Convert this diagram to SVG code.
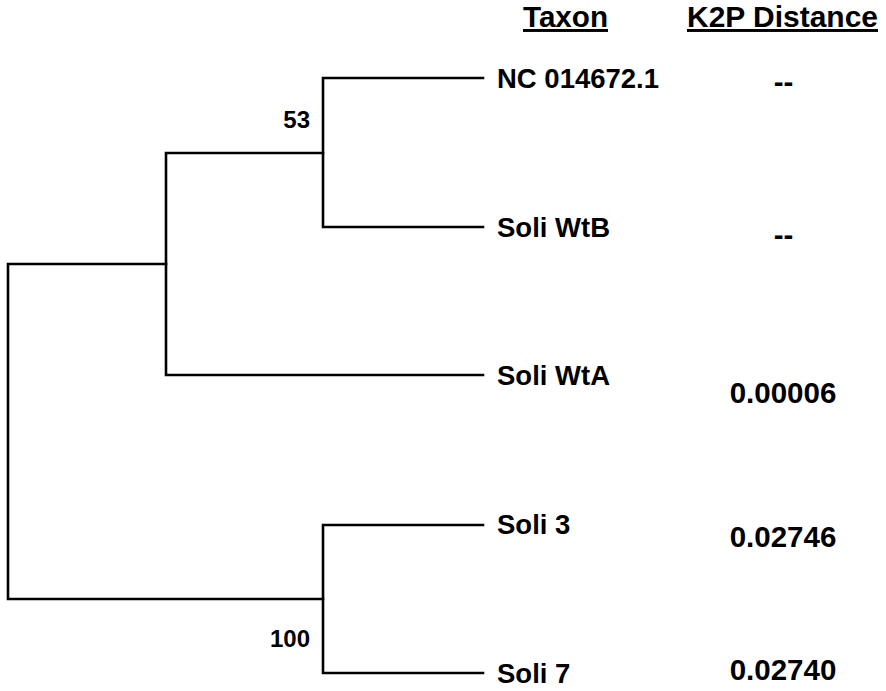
<svg xmlns="http://www.w3.org/2000/svg" width="886" height="691" viewBox="0 0 886 691">
<style>
.br{fill:none;stroke:#000;stroke-width:2.6;stroke-linecap:square;stroke-linejoin:miter}
.t{font-family:"Liberation Sans",Arial,sans-serif;font-weight:bold;fill:#000}
.lab{font-size:27.5px}
.hd{font-size:29.5px;text-decoration:underline}
.d{font-size:29.5px;text-anchor:middle}
.bs{font-size:24px;text-anchor:end}
</style>
<rect width="886" height="691" fill="#fff"/>
<g id="connectors">
<path class="br" d="M483,78 H323 V227 H483"/>
<path class="br" d="M323,153 H166 V375 H483"/>
<path class="br" d="M166,264 H8 V599 H323"/>
<path class="br" d="M483,525 H323 V673 H483"/>
</g>
<g id="header">
<text class="t hd" x="523" y="27" textLength="85" lengthAdjust="spacingAndGlyphs">Taxon</text>
<text class="t hd" x="687" y="27" textLength="191" lengthAdjust="spacingAndGlyphs">K2P Distance</text>
</g>
<g id="node-nc"><text class="t lab" x="497" y="88">NC 014672.1</text><text class="t d" x="783.5" y="92">--</text></g>
<g id="node-wtb"><text class="t lab" x="497" y="237">Soli WtB</text><text class="t d" x="783.5" y="245">--</text></g>
<g id="node-wta"><text class="t lab" x="497" y="385">Soli WtA</text><text class="t d" x="783" y="403">0.00006</text></g>
<g id="node-s3"><text class="t lab" x="497" y="534">Soli 3</text><text class="t d" x="783" y="547">0.02746</text></g>
<g id="node-s7"><text class="t lab" x="497" y="683">Soli 7</text><text class="t d" x="783" y="680">0.02740</text></g>
<g id="bootstrap">
<text class="t bs" x="310" y="128">53</text>
<text class="t bs" x="310" y="647">100</text>
</g>
</svg>
